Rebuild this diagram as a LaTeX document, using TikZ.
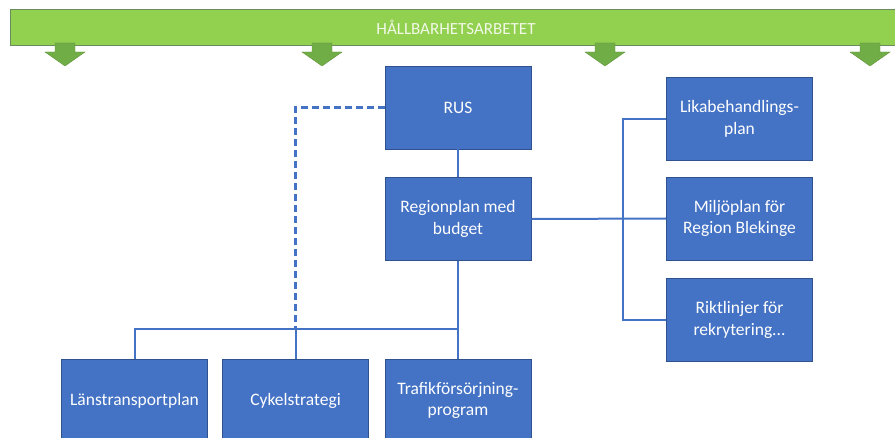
\documentclass[tikz,border=0pt]{standalone}
\usepackage{fontspec}
\setmainfont{Carlito}
\definecolor{boxblue}{HTML}{4472C4}
\definecolor{boxedge}{HTML}{2F528F}
\definecolor{barfill}{HTML}{92D050}
\definecolor{baredge}{HTML}{6A8A62}
\definecolor{arrowgreen}{HTML}{70AD47}
\definecolor{bartext}{HTML}{F2F8E6}
\tikzset{
  plan/.style={rectangle, fill=boxblue, draw=boxedge, line width=0.8pt,
    minimum width=146, minimum height=83, inner sep=2pt, align=center,
    text=white, font=\fontsize{17.5}{21.5}\selectfont},
  link/.style={draw=boxblue, line width=2pt},
  weaklink/.style={draw=boxblue, line width=2.2pt, dash pattern=on 7pt off 4pt},
  downarrow/.style={fill=arrowgreen, draw=arrowgreen!85!black, line width=0.4pt},
}
\begin{document}
\begin{tikzpicture}[x=1pt, y=-1pt]
\useasboundingbox (0,0) rectangle (895,438);
\clip (0,0) rectangle (895,438);

% top banner
\node[rectangle, fill=barfill, draw=baredge, line width=1pt, anchor=north west,
  minimum width=895, minimum height=36, inner sep=0pt] (bar) at (10,9) {};
\node[text=bartext, font=\fontsize{17}{19}\selectfont] (bartitle) at (456,27) {HÅLLBARHETSARBETET};

% arrows hanging from the banner
\foreach \cx in {65,322,605,870} {
  \draw[downarrow] (\cx-10,43) -- (\cx+10,43) -- (\cx+10,52) -- (\cx+20,52)
    -- (\cx,66) -- (\cx-20,52) -- (\cx-10,52) -- cycle;
}

% documents
\node[plan] (rus)    at (458,107.5) {RUS};
\node[plan] (reg)    at (458,219)   {Regionplan med\\budget};
\node[plan] (lika)   at (739.5,119) {Likabehandlings-\\plan};
\node[plan] (milj)   at (739.5,218.5) {Miljöplan för\\Region Blekinge};
\node[plan] (rikt)   at (739.5,320) {Riktlinjer för\\rekrytering...};
\node[plan] (lans)   at (134.5,400.5) {Länstransportplan};
\node[plan] (cykel)  at (295.5,400.5) {Cykelstrategi};
\node[plan] (trafik) at (458,400.5) {Trafikförsörjning-\\program};

% junction points
\coordinate (hub)  at (458,329);
\coordinate (rbus) at (623,219);

% connectors
\draw[link] (rus.south) -- (reg.north);
\draw[link] (reg.south) -- (trafik.north);
\draw[link] (lans.north) |- (hub);
\draw[link] (cykel.north) -- (cykel.north |- hub);
\draw[weaklink] (rus.west) -| (cykel.north |- hub);
\draw[link] (reg.east) -- (milj.west);
\draw[link] (lika.west) -| (rbus) |- (rikt.west);
\end{tikzpicture}
\end{document}
